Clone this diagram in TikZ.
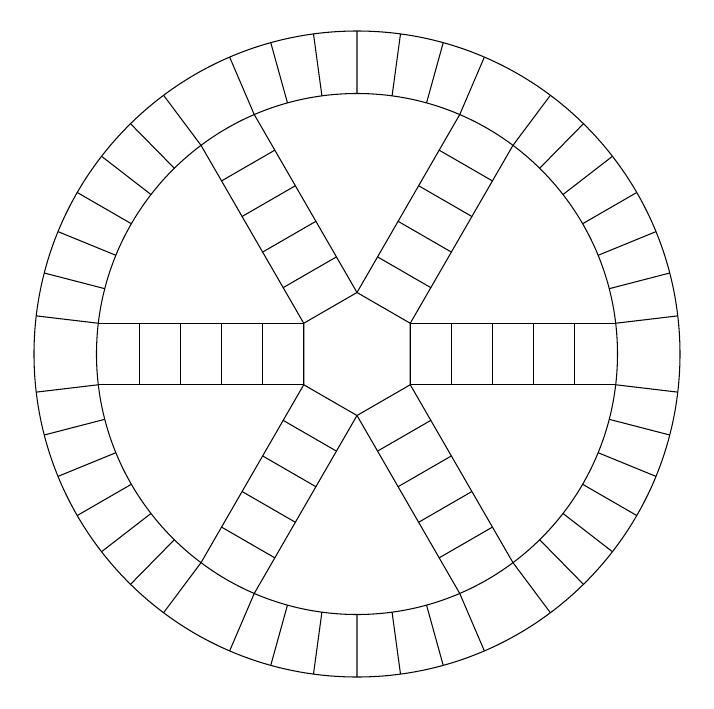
\documentclass[tikz,border=0pt]{standalone}
\begin{document}
\begin{tikzpicture}[x=0.02cm, y=0.02cm, line width=0.6pt]

            \useasboundingbox (-357,-354) rectangle (357,354);

            % Rings
            \draw (0,0) circle (323);
            \draw (0,0) circle (260.5);

            % Centre hexagon
            \draw (30:61.5) -- (90:61.5) -- (150:61.5) -- (210:61.5) -- (270:61.5) -- (330:61.5) -- cycle;

            % Spokes and outer track
            \foreach \a in {0,60,...,300} {
              \begin{scope}[rotate=\a]
                \draw (53.3,30.75) -- (258.7,30.75);
                \draw (53.3,-30.75) -- (258.7,-30.75);
                \foreach \k in {1,...,4}
                  \draw (53.3+41.08*\k,-30.75) -- ++(0,61.5);
                \foreach \k in {0,...,6}
                  \draw (6.78+7.74*\k:260.5) -- (6.78+7.74*\k:323);
              \end{scope}
            }

          \end{tikzpicture}
\end{document}
